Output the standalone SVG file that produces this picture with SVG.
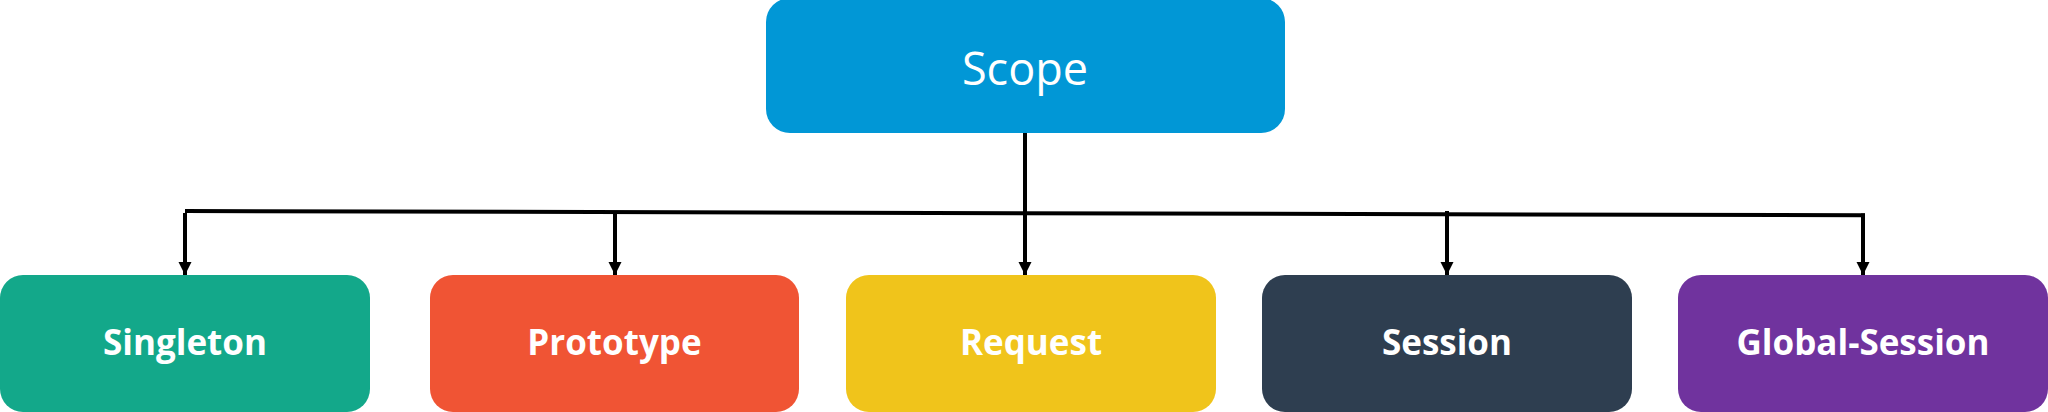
<svg xmlns="http://www.w3.org/2000/svg" width="2048" height="412" viewBox="0 0 2048 412">
  <style>
    .top { font-family: "Open Sans", "Noto Sans", "Liberation Sans", sans-serif; font-size: 45px; font-weight: 400; fill: #ffffff; text-anchor: middle; }
    .lbl { font-family: "Open Sans", "Noto Sans", "Liberation Sans", sans-serif; font-size: 35px; font-weight: 700; fill: #ffffff; text-anchor: middle; }
    .conn { stroke: #000000; stroke-width: 4; fill: none; }
    .arr { stroke: #000000; stroke-width: 4; fill: none; marker-end: url(#ah); }
  </style>
  <defs>
    <marker id="ah" markerUnits="userSpaceOnUse" markerWidth="14" markerHeight="14" refX="13" refY="6.5" orient="auto">
      <path d="M0,0 L13,6.5 L0,13 z" fill="#000000"/>
    </marker>
  </defs>
  <rect width="2048" height="412" fill="#ffffff"/>

  <g id="connectors">
    <line class="conn" x1="1025" y1="133" x2="1025" y2="214"/>
    <line class="conn" x1="185" y1="211" x2="1865" y2="215.3"/>
    <line class="arr" x1="185" y1="213" x2="185" y2="275"/>
    <line class="arr" x1="615" y1="212" x2="615" y2="275"/>
    <line class="arr" x1="1025" y1="212" x2="1025" y2="275"/>
    <line class="arr" x1="1447" y1="211" x2="1447" y2="275"/>
    <line class="arr" x1="1863" y1="213.5" x2="1863" y2="275"/>
  </g>

  <g id="scope">
    <rect x="766" y="-2" width="519" height="135" rx="24" fill="#0197D6"/>
    <text class="top" x="1025" y="85">Scope</text>
  </g>

  <g id="singleton">
    <rect x="0" y="275" width="370" height="137" rx="23" fill="#13A88A"/>
    <text class="lbl" x="185" y="355">Singleton</text>
  </g>

  <g id="prototype">
    <rect x="430" y="275" width="369" height="137" rx="23" fill="#F05434"/>
    <text class="lbl" x="614.5" y="355">Prototype</text>
  </g>

  <g id="request">
    <rect x="846" y="275" width="370" height="137" rx="23" fill="#F0C41B"/>
    <text class="lbl" x="1031" y="355">Request</text>
  </g>

  <g id="session">
    <rect x="1262" y="275" width="370" height="137" rx="23" fill="#2E3E50"/>
    <text class="lbl" x="1447" y="355">Session</text>
  </g>

  <g id="global-session">
    <rect x="1678" y="275" width="370" height="137" rx="23" fill="#70339E"/>
    <text class="lbl" x="1863" y="355">Global-Session</text>
  </g>
</svg>
